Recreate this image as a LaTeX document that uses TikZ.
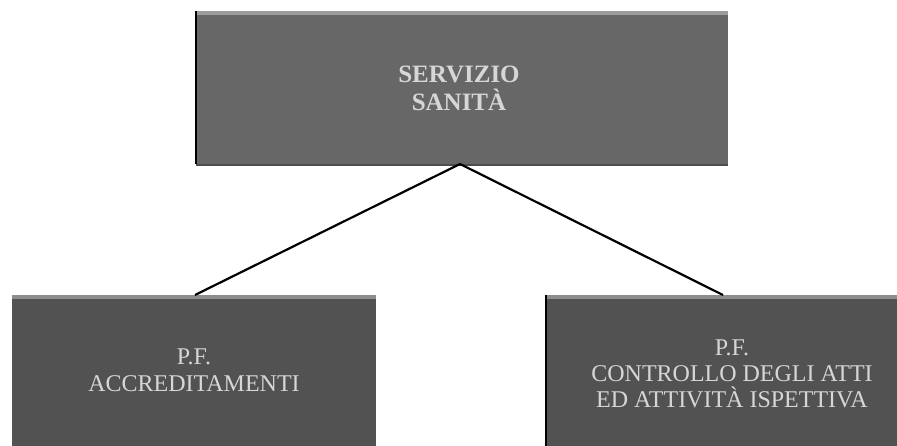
\documentclass[tikz,border=0pt]{standalone}
\usepackage{fontspec}
\setmainfont{Liberation Serif}
\usetikzlibrary{positioning}
\definecolor{topfill}{HTML}{676767}
\definecolor{subfill}{HTML}{525252}
\definecolor{boxtext}{HTML}{D6D6D6}
\definecolor{rimlight}{HTML}{9C9C9C}
\tikzset{
  orgbox/.style={draw=none, inner sep=0pt, outer sep=0pt, rectangle},
  boxlabel/.style={text=boxtext, align=center, inner sep=0pt},
  link/.style={draw=black, line width=2.2pt}
}
\begin{document}
\begin{tikzpicture}[x=1pt,y=-1pt]
\useasboundingbox (0,0) rectangle (897,445);
\fill[white] (0,0) rectangle (897,445);
\begin{scope}
\clip (0,0) rectangle (897,445);

% head office box
\node[orgbox, fill=topfill, minimum width=532pt, minimum height=153pt] (serv) at (462,87.5) {};
\fill[rimlight] (serv.north west) rectangle ([yshift=-4pt]serv.north east);
\fill[black!70] ([yshift=-2pt]serv.south west) rectangle (serv.south east);
\draw[black, line width=1.6pt] (serv.north west) -- (serv.south west);
\node[boxlabel, font=\bfseries\fontsize{25}{28}\selectfont] (servtext) at (459,88) {SERVIZIO\\SANITÀ};

% accreditation unit
\node[orgbox, fill=subfill, minimum width=364pt, minimum height=156pt] (acc) at (194,373) {};
\fill[rimlight!80!subfill] (acc.north west) rectangle ([yshift=-4pt]acc.north east);
\node[boxlabel, font=\fontsize{24}{27}\selectfont] (acctext) at (194,370) {P.F.\\ACCREDITAMENTI};

% inspection unit
\node[orgbox, fill=subfill, minimum width=360pt, minimum height=156pt] (isp) at (726,373) {};
\fill[rimlight!80!subfill] (isp.north west) rectangle ([yshift=-4pt]isp.north east);
\draw[black, line width=1.6pt] (isp.north west) -- (isp.south west);
\node[boxlabel, font=\fontsize{24}{26}\selectfont] (isptext) at (732,374) {P.F.\\CONTROLLO DEGLI ATTI\\ED ATTIVITÀ ISPETTIVA};
\end{scope}

% connectors
\coordinate (apex) at ([xshift=-2pt]serv.south);
\draw[link] (apex) -- (acc.north -| 195,0);
\draw[link] (apex) -- (isp.north -| 723,0);
\end{tikzpicture}
\end{document}
